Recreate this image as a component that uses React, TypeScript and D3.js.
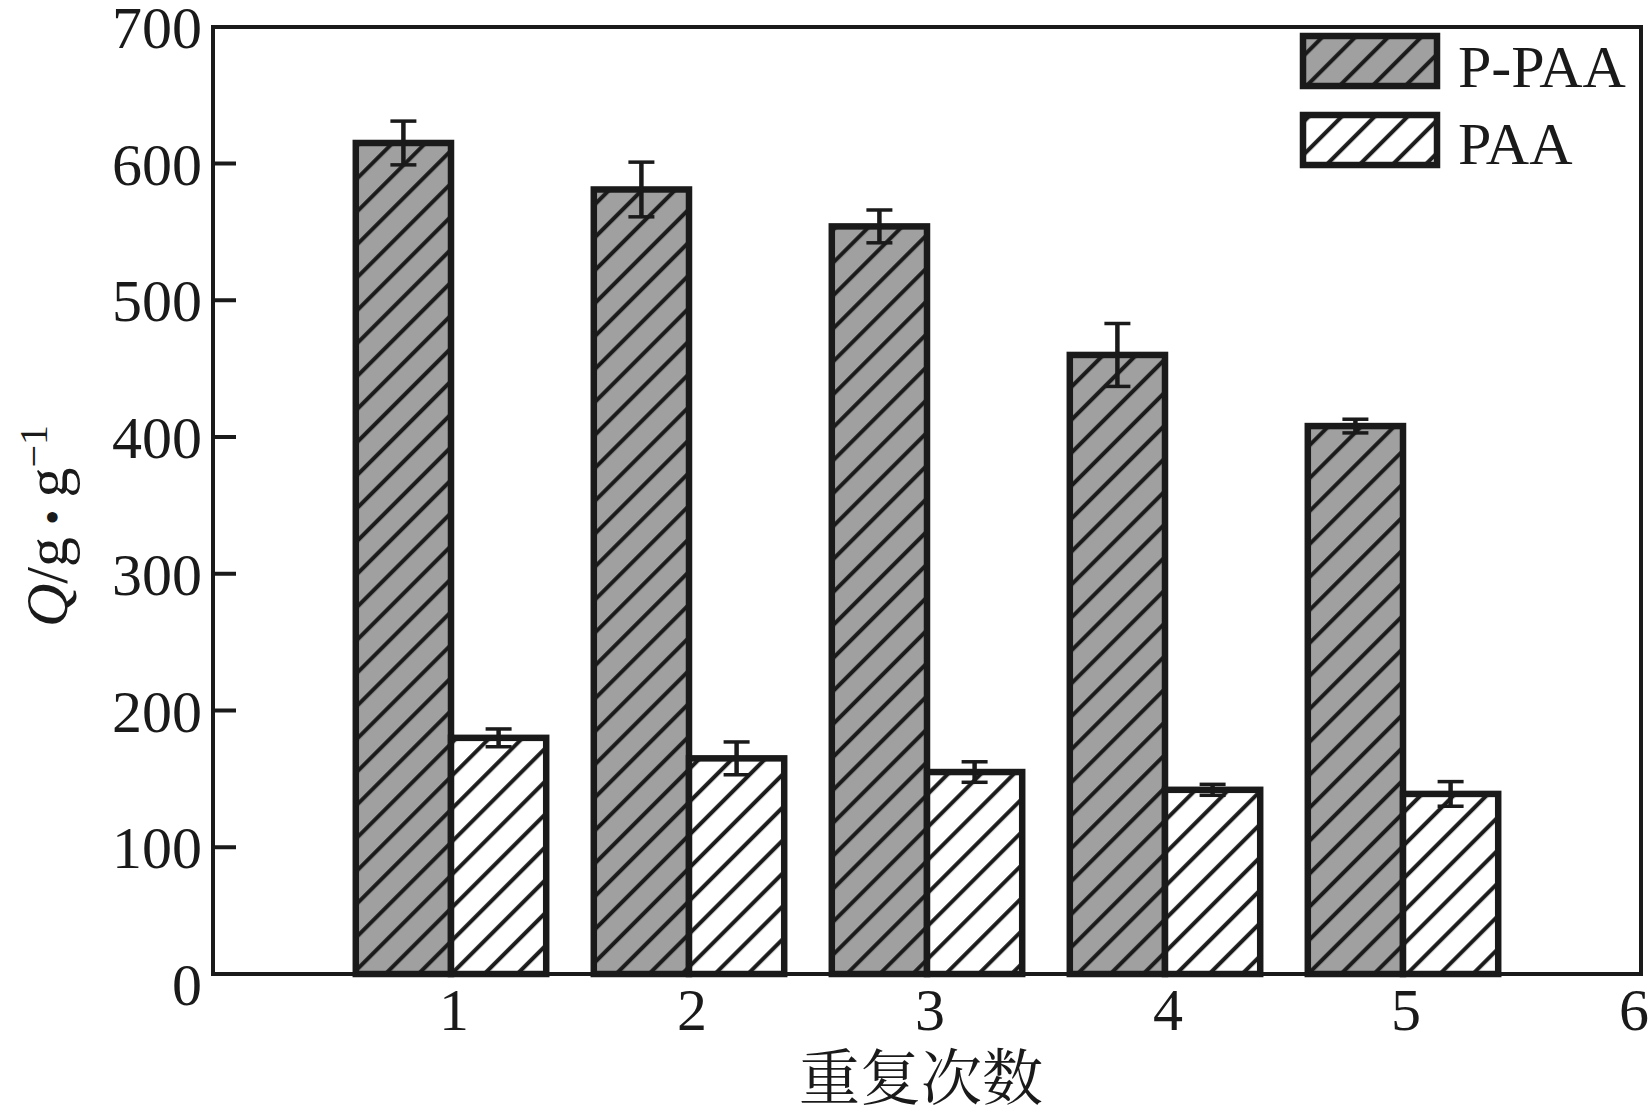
import React from "react";
import * as d3 from "d3";

const categories = [1, 2, 3, 4, 5];
const ppaaValues = [615, 581, 554, 460, 408];
const ppaaErrors = [16, 20, 12, 23, 5];
const paaValues = [180, 165, 155, 142, 139];
const paaErrors = [6.5, 12, 7.5, 4, 9];
const xTicks = [1, 2, 3, 4, 5, 6];
const yTicks = [0, 100, 200, 300, 400, 500, 600, 700];
const seriesNames = ["P-PAA", "PAA"];
const xTitle = "重复次数";

const W = 1651;
const H = 1114;
const frame = { left: 213, right: 1641, top: 27, bottom: 974 };
const INK = "#1a1a1a";
const GRAY = "#a0a0a0";
const serif = "'Liberation Serif', 'Times New Roman', Times, serif";
const cjk = "'Noto Serif CJK SC', 'Noto Sans CJK SC', sans-serif";

export default function App() {
  const x = d3.scaleLinear().domain([0, 6]).range([frame.left, frame.right]);
  const y = d3.scaleLinear().domain([0, 700]).range([984, 984 - 7 * 136.75]);
  const barW = x(0.4) - x(0);
  const series = [
    { name: seriesNames[0], values: ppaaValues, errs: ppaaErrors, fill: GRAY, pat: "hatchGray", off: -1 },
    { name: seriesNames[1], values: paaValues, errs: paaErrors, fill: "#ffffff", pat: "hatchWhite", off: 0 },
  ];

  return (
    <svg width={W} height={H} style={{ position: "absolute", left: 0, top: 0, background: "#fff" }}>
      <defs>
        {series.map((s) => (
          <pattern key={s.pat} id={s.pat} patternUnits="userSpaceOnUse" width={23.3} height={23.3}
            patternTransform="rotate(45)">
            <rect x={0} y={0} width={23.3} height={23.3} fill={s.fill} />
            <line x1={6} y1={0} x2={6} y2={23.3} stroke={INK} strokeWidth={4} />
          </pattern>
        ))}
      </defs>
      <rect width={W} height={H} fill="#fff" />

      {/* bars */}
      {series.map((s) =>
        categories.map((c, i) => {
          const x0 = x(c) + s.off * barW;
          const yt = y(s.values[i]);
          return (
            <rect key={s.name + c} x={x0} y={yt} width={barW} height={frame.bottom - yt}
              fill={`url(#${s.pat})`} stroke={INK} strokeWidth={6.5} />
          );
        })
      )}
      {/* error bars */}
      {series.map((s) =>
        categories.map((c, i) => {
          const cx = x(c) + s.off * barW + barW / 2;
          const y1 = y(s.values[i] + s.errs[i]);
          const y2 = y(s.values[i] - s.errs[i]);
          return (
            <g key={"e" + s.name + c} stroke={INK}>
              <line x1={cx} x2={cx} y1={y1} y2={y2} strokeWidth={4.5} />
              <line x1={cx - 13} x2={cx + 13} y1={y1} y2={y1} strokeWidth={3.5} />
              <line x1={cx - 13} x2={cx + 13} y1={y2} y2={y2} strokeWidth={3.5} />
            </g>
          );
        })
      )}

      {/* frame */}
      <rect x={frame.left} y={frame.top} width={frame.right - frame.left} height={frame.bottom - frame.top}
        fill="none" stroke={INK} strokeWidth={4} />

      {/* y ticks */}
      {yTicks.map((t) => (
        <g key={"yt" + t}>
          {t > 0 && t < 700 && (
            <line x1={frame.left} x2={frame.left + 23} y1={y(t)} y2={y(t)} stroke={INK} strokeWidth={4} />
          )}
          <text x={202} y={y(t)} dy="0.35em" textAnchor="end" fontFamily={serif} fontSize={60} fill={INK}>
            {t}
          </text>
        </g>
      ))}

      {/* x tick labels */}
      {xTicks.map((t) => (
        <text key={"xt" + t} x={Math.min(x(t) + 3, W - 17)} y={1030} textAnchor="middle" fontFamily={serif} fontSize={60} fill={INK}>
          {t}
        </text>
      ))}

      {/* x title */}
      <text x={921} y={1100} textAnchor="middle" fontFamily={cjk} fontSize={61} fill={INK}>
        {xTitle}
      </text>

      {/* y title */}
      <text transform="translate(67,526) rotate(-90)" textAnchor="middle" fontFamily={serif} fontSize={60} fill={INK}>
        <tspan fontStyle="italic">Q</tspan>
        <tspan>/g</tspan>
        <tspan dx={12} fontSize={44}>•</tspan>
        <tspan dx={12}>g</tspan>
        <tspan fontSize={40} dy={-20}>−1</tspan>
      </text>

      {/* legend */}
      {series.map((s, i) => (
        <g key={"lg" + s.name}>
          <rect x={1303} y={36 + i * 79} width={134} height={50} fill={`url(#${s.pat})`} stroke={INK} strokeWidth={6.5} />
          <text x={1458} y={87 + i * 77} fontFamily={serif} fontSize={60} fill={INK}>
            {s.name}
          </text>
        </g>
      ))}
    </svg>
  );
}
